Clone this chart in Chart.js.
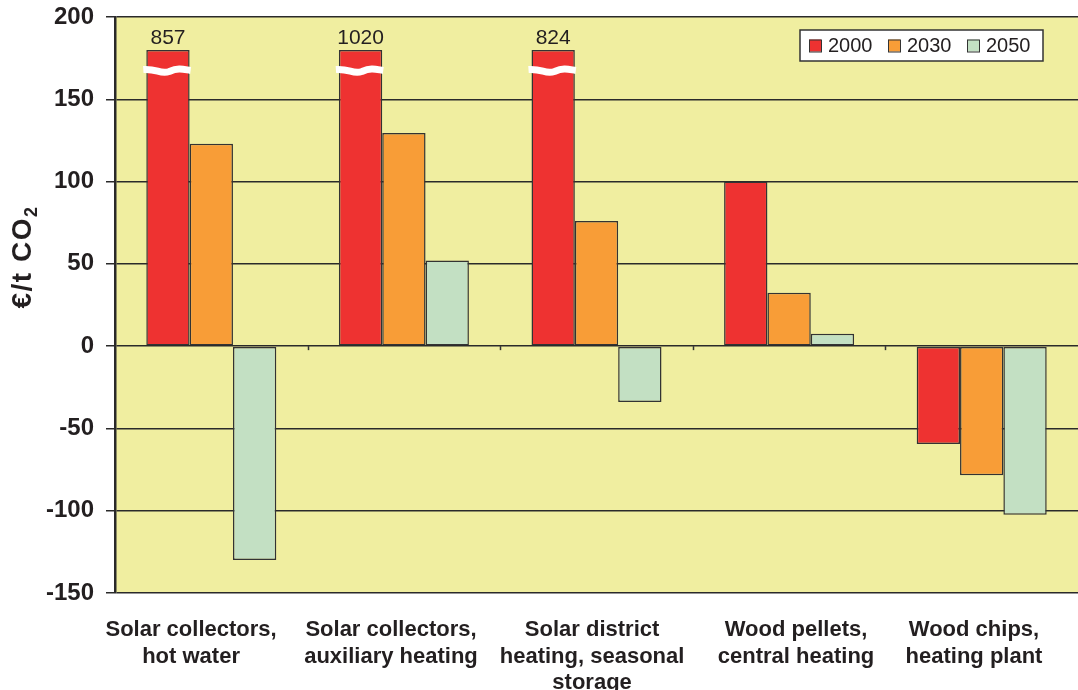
<!DOCTYPE html>
<html>
<head>
<meta charset="utf-8">
<script src="https://cdn.jsdelivr.net/npm/chart.js@4"></script>
<style>
  html, body { margin: 0; padding: 0; background: #fff; }
  #wrap { width: 1078px; height: 690px; }
</style>
</head>
<body>
<div id="wrap"><canvas id="chart" width="1078" height="690"></canvas></div>
<script>
const categories = [
  ['Solar collectors,', 'hot water'],
  ['Solar collectors,', 'auxiliary heating'],
  ['Solar district', 'heating, seasonal', 'storage'],
  ['Wood pellets,', 'central heating'],
  ['Wood chips,', 'heating plant'],
];
const seriesNames = ['2000', '2030', '2050'];
const values2000 = [857, 1020, 824, 100, -59.5];
const values2030 = [123, 129.5, 76, 32.5, -78.5];
const values2050 = [-130, 52, -34, 7.5, -102.5];
const seriesColors = ['#EE3231', '#F89D37', '#C3E0C3'];
const yTicks = [200, 150, 100, 50, 0, -50, -100, -150];
const axisBreak = 180; // bars above this are cut and labelled with their value

// the original labels are not exactly centred under their groups
const labelSlots = [0.395, 1.433, 2.477, 3.536, 4.46];

const FONT = 'Arial, "Liberation Sans", Helvetica, sans-serif';
const INK = '#231F20';

const clip = (arr) => arr.map((v) => Math.min(v, axisBreak));

const decorations = {
  id: 'decorations',
  beforeDraw(chart) {
    const { ctx, chartArea: a } = chart;
    ctx.save();
    ctx.fillStyle = '#F0EEA0';
    ctx.fillRect(a.left, a.top, a.right - a.left, a.bottom - a.top);
    ctx.restore();
  },
  afterDatasetsDraw(chart) {
    const { ctx, chartArea: a, scales } = chart;
    const y0 = scales.y.getPixelForValue(0);

    // small ticks at category boundaries on the zero line
    ctx.save();
    ctx.strokeStyle = '#333';
    ctx.lineWidth = 1.5;
    const n = categories.length;
    const step = (a.right - a.left) / n;
    for (let i = 1; i < n; i++) {
      const x = Math.round(a.left + step * i) + 0.5;
      ctx.beginPath();
      ctx.moveTo(x, y0);
      ctx.lineTo(x, y0 + 4);
      ctx.stroke();
    }
    ctx.restore();

    // break marks and real values on clipped bars
    const meta = chart.getDatasetMeta(0);
    values2000.forEach((v, i) => {
      if (v <= axisBreak) return;
      const bar = meta.data[i];
      const half = bar.width / 2;
      const yb = scales.y.getPixelForValue(167.5);
      ctx.save();
      ctx.strokeStyle = '#fff';
      ctx.lineWidth = 7;
      ctx.beginPath();
      const x1 = bar.x - half - 3;
      const x2 = bar.x + half + 1;
      ctx.moveTo(x1, yb - 1);
      ctx.bezierCurveTo(x1 + (x2 - x1) * 0.3, yb - 2, x1 + (x2 - x1) * 0.35, yb + 4, x1 + (x2 - x1) * 0.55, yb + 1);
      ctx.bezierCurveTo(x1 + (x2 - x1) * 0.75, yb - 3, x1 + (x2 - x1) * 0.85, yb - 1, x2, yb);
      ctx.stroke();
      ctx.restore();

      ctx.save();
      ctx.fillStyle = INK;
      ctx.font = '21px ' + FONT;
      ctx.textAlign = 'center';
      ctx.textBaseline = 'bottom';
      ctx.fillText(String(v), bar.x, bar.y - 1);
      ctx.restore();
    });

    // legend box
    const lx = 800, ly = 30, lw = 243, lh = 31;
    ctx.save();
    ctx.fillStyle = '#fff';
    ctx.fillRect(lx, ly, lw, lh);
    ctx.strokeStyle = '#333';
    ctx.lineWidth = 1.5;
    ctx.strokeRect(lx, ly, lw, lh);
    ctx.font = '20px ' + FONT;
    ctx.textBaseline = 'middle';
    ctx.textAlign = 'left';
    seriesNames.forEach((name, i) => {
      const sx = lx + 9 + i * 79;
      const sy = ly + lh / 2;
      ctx.fillStyle = seriesColors[i];
      ctx.fillRect(sx, sy - 6, 12, 12);
      ctx.strokeStyle = '#333';
      ctx.lineWidth = 1;
      ctx.strokeRect(sx + 0.5, sy - 5.5, 12, 12);
      ctx.fillStyle = INK;
      ctx.fillText(name, sx + 19, sy + 1);
    });
    ctx.restore();

    // y axis title with subscript
    ctx.save();
    ctx.translate(23, 257);
    ctx.rotate(-Math.PI / 2);
    ctx.fillStyle = INK;
    ctx.textBaseline = 'middle';
    ctx.letterSpacing = '1.5px';
    const main = '€/t CO';
    ctx.font = 'bold 28px ' + FONT;
    const w1 = ctx.measureText(main).width;
    ctx.font = 'bold 18px ' + FONT;
    const w2 = ctx.measureText('2').width;
    const start = -(w1 + w2) / 2;
    ctx.font = 'bold 28px ' + FONT;
    ctx.textAlign = 'left';
    ctx.fillText(main, start, 0);
    ctx.font = 'bold 18px ' + FONT;
    ctx.fillText('2', start + w1, 9);
    ctx.restore();
  },
};

new Chart(document.getElementById('chart').getContext('2d'), {
  type: 'bar',
  data: {
    labels: categories,
    datasets: [values2000, values2030, values2050].map((vals, i) => ({
      label: seriesNames[i],
      data: i === 0 ? clip(vals) : vals,
      backgroundColor: seriesColors[i],
      borderColor: '#333',
      borderWidth: 1.5,
      borderSkipped: false,
      categoryPercentage: 0.675,
      barPercentage: 1.0,
    })),
  },
  options: {
    responsive: false,
    animation: false,
    layout: { padding: { top: 17, right: 0, left: 0, bottom: 0 } },
    plugins: {
      legend: { display: false },
      tooltip: { enabled: false },
    },
    scales: {
      x: {
        grid: { display: false },
        border: { display: false },
        ticks: { display: false },
        afterFit(scale) {
          scale.height = 0;
          scale.paddingLeft = 0;
          scale.paddingRight = 0;
        },
      },
      xLabels: {
        type: 'linear',
        position: 'bottom',
        offset: false,
        min: 0,
        max: categories.length,
        grid: { display: false, offset: false },
        border: { display: false },
        afterBuildTicks(scale) { scale.ticks = labelSlots.map((v) => ({ value: v })); },
        ticks: {
          callback: (value, index) => categories[index],
          color: INK,
          font: { family: FONT, size: 22, weight: 'bold', lineHeight: 1.2 },
          padding: 16,
          maxRotation: 0,
          autoSkip: false,
        },
        afterFit(scale) {
          scale.height = 97;
          scale.paddingLeft = 0;
          scale.paddingRight = 0;
        },
      },
      y: {
        min: -150,
        max: 200,
        afterBuildTicks(scale) { scale.ticks = yTicks.map((v) => ({ value: v })); },
        grid: {
          color: '#2a2a2a',
          lineWidth: 1.5,
          tickLength: 9,
          drawTicks: true,
        },
        border: { display: true, color: '#2a2a2a', width: 2.5 },
        ticks: {
          color: INK,
          font: { family: FONT, size: 24, weight: 'bold' },
          padding: 12,
        },
        afterFit(scale) {
          scale.width = 115;
          scale.paddingTop = 0;
          scale.paddingBottom = 0;
        },
      },
    },
  },
  plugins: [decorations],
});
</script>
</body>
</html>
